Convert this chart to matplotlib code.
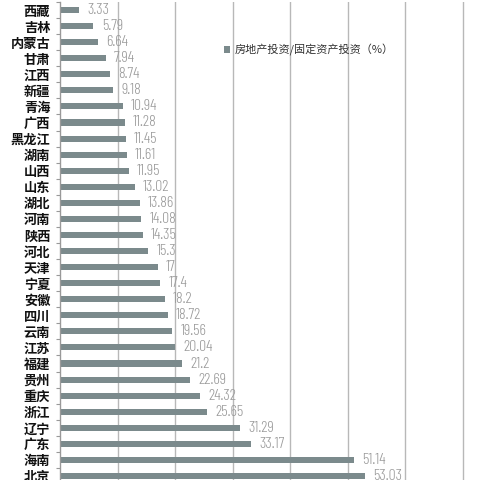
import matplotlib
matplotlib.use('Agg')
import matplotlib.pyplot as plt
import numpy as np

plt.rcParams['font.family'] = ['Noto Sans CJK SC', 'DejaVu Sans']

# data
provinces = ['西藏', '吉林', '内蒙古', '甘肃', '江西', '新疆', '青海', '广西', '黑龙江', '湖南',
             '山西', '山东', '湖北', '河南', '陕西', '河北', '天津', '宁夏', '安徽', '四川',
             '云南', '江苏', '福建', '贵州', '重庆', '浙江', '辽宁', '广东', '海南', '北京']
ratio = [3.33, 5.79, 6.64, 7.94, 8.74, 9.18, 10.94, 11.28, 11.45, 11.61,
         11.95, 13.02, 13.86, 14.08, 14.35, 15.3, 17, 17.4, 18.2, 18.72,
         19.56, 20.04, 21.2, 22.69, 24.32, 25.65, 31.29, 33.17, 51.14, 53.03]
ratio_labels = ['3.33', '5.79', '6.64', '7.94', '8.74', '9.18', '10.94', '11.28', '11.45', '11.61',
                '11.95', '13.02', '13.86', '14.08', '14.35', '15.3', '17', '17.4', '18.2', '18.72',
                '19.56', '20.04', '21.2', '22.69', '24.32', '25.65', '31.29', '33.17', '51.14', '53.03']
legend_label = '房地产投资/固定资产投资（%）'

bar_color = '#7b8a8c'
grid_color = '#b8b8b8'

fig = plt.figure(figsize=(4.8, 4.8), dpi=100)
# axes runs a bit past the bottom edge, like the cropped original
ax = fig.add_axes([60 / 480, -4 / 480, 420 / 480, 482 / 480])

y = np.arange(len(provinces))
ax.barh(y, ratio, height=0.38, color=bar_color, label=legend_label, zorder=2)

ax.set_xlim(0, 420 / 5.75)
ax.set_ylim(len(provinces) - 0.5, -0.5)

# vertical gridlines every 10
ax.set_xticks(np.arange(10, 80, 10))
ax.tick_params(axis='x', length=0, labelbottom=False)
ax.grid(axis='x', color=grid_color, linewidth=1.0, zorder=0)
ax.set_axisbelow(True)

# category labels, small ticks between categories
ax.set_yticks(y)
ax.set_yticklabels(provinces, fontsize=9.5, fontweight='bold', color='#111111')
ax.tick_params(axis='y', which='major', length=0, pad=7)
ax.set_yticks(np.arange(-0.5, len(provinces), 1), minor=True)
ax.tick_params(axis='y', which='minor', length=3, width=0.8, color='#999999')

for s in ['top', 'right', 'bottom']:
    ax.spines[s].set_visible(False)
ax.spines['left'].set_color('#999999')
ax.spines['left'].set_linewidth(1.0)

# value labels, narrow light font
for yi, v, t in zip(y, ratio, ratio_labels):
    ax.annotate(t, xy=(v, yi), xytext=(6, 0), textcoords='offset points',
                va='center', ha='left', color='#9a9a9a', fontsize=11.5,
                family=['Barlow Condensed', 'DejaVu Sans'], fontweight=300)

leg = ax.legend(loc='center left', bbox_to_anchor=(218 / 480, 1 - 50 / 480),
                bbox_transform=fig.transFigure, frameon=False, fontsize=8,
                handlelength=0.6, handleheight=0.6, handletextpad=0.4, borderpad=0)
for txt in leg.get_texts():
    txt.set_color('#333333')

fig.savefig('out.png', dpi=100)
plt.close(fig)
